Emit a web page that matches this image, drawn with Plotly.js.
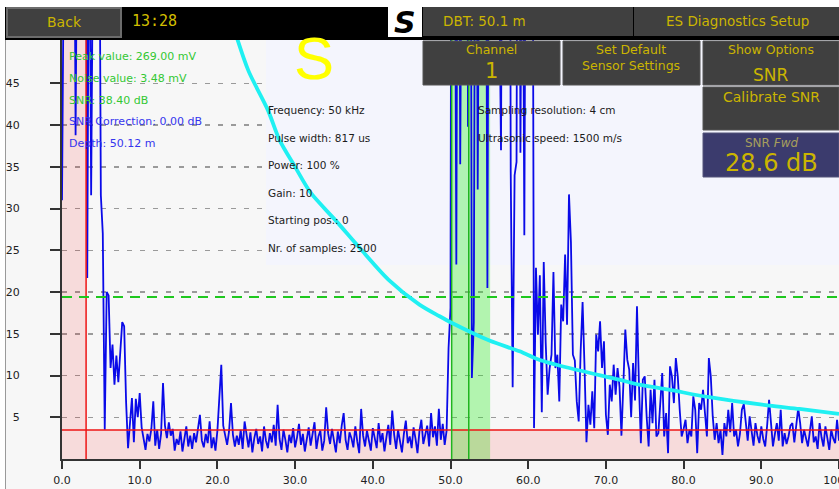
<!DOCTYPE html>
<html>
<head>
<meta charset="utf-8">
<script src="https://cdn.plot.ly/plotly-3.0.1.min.js"></script>
<style>html,body{margin:0;padding:0;background:#fff;}#chart{width:839px;height:489px;}</style>
</head>
<body>
<div id="chart"></div>
<script>
// ---------------- DATA ----------------
const sampleStep = 0.25; // m between plotted samples
const signal = [
  // 0.00 - 4.75
  31, 95, 140, 110, 160, 120, 85, 38.8, 100, 150, 130, 180, 120, 21.7, 75, 31.6, 110, 70, 130, 80,
  // 5.00 - 9.75
  31.6, 27, 3.5, 20.0, 19.6, 10.9, 13.7, 8.9, 12.4, 9.2, 13.0, 16.4, 15.9, 6.8, 1.3, 4.4, 7.3, 2.0, 7.2, 5.0,
  // 10.00 - 14.75
  7.9, 3.8, 2.2, 1.1, 3.0, 2.1, 3.6, 6.9, 1.6, 3.5, 1.2, 3.0, 9.1, 4.0, 2.5, 4.4, 2.8, 3.6, 1.0, 2.4,
  // 15.00 - 19.75
  1.7, 3.3, 0.9, 2.6, 3.9, 1.5, 2.8, 1.2, 3.1, 2.0, 3.7, 5.3, 2.2, 1.4, 3.0, 1.9, 4.5, 1.3, 2.6, 1.0,
  // 20.00 - 24.75
  3.4, 7.5, 11.3, 4.0, 2.9, 1.7, 3.3, 6.7, 2.9, 1.5, 2.8, 1.7, 3.5, 1.2, 4.5, 2.6, 1.4, 3.2, 0.8, 2.5,
  // 25.00 - 29.75
  3.6, 1.8, 2.7, 0.9, 3.9, 2.2, 1.3, 3.1, 2.0, 4.1, 1.6, 6.5, 2.4, 1.1, 3.5, 2.3, 0.8, 2.9, 1.9, 3.7,
  // 30.00 - 34.75
  1.4, 2.6, 4.2, 1.7, 3.0, 0.9, 2.5, 3.8, 1.6, 2.9, 4.4, 1.2, 2.7, 3.4, 1.0, 2.2, 6.2, 3.1, 1.8, 3.6,
  // 35.00 - 39.75
  2.0, 0.8, 3.3, 1.9, 4.0, 5.5, 2.3, 1.1, 3.2, 2.5, 1.4, 3.9, 2.1, 0.7, 6.0, 2.8, 1.5, 3.4, 2.2, 1.0,
  // 40.00 - 44.75
  3.7, 2.4, 1.3, 4.3, 2.0, 3.1, 0.9, 2.6, 4.1, 1.7, 5.8, 2.9, 1.2, 3.5, 2.2, 0.8, 3.0, 4.6, 1.9, 2.7,
  // 45.00 - 49.75
  1.3, 3.8, 2.4, 0.7, 3.3, 4.7, 1.8, 2.9, 4.0, 1.5, 5.5, 2.6, 3.9, 1.6, 6.0, 2.3, 4.2, 1.7, 3.4, 13.3,
  // 50.00 - 54.75
  18.1, 150, 90, 23.3, 110, 35.3, 140, 80, 160, 39.8, 120, 9.7, 16.4, 100, 32.3, 150, 110, 170, 90, 20.5,
  // 55.00 - 59.75
  130, 180, 90, 140, 100, 60, 37, 120, 160, 95, 140, 34.4, 8.6, 34.0, 35.6, 120, 36.7, 80, 26.8, 130,
  // 60.00 - 64.75
  150, 70, 100, 3.7, 22.9, 14.9, 22.0, 5.6, 23.6, 14.0, 7.7, 10.8, 12.5, 22.4, 10.9, 12.5, 6.9, 18.5, 16.5, 24.5,
  // 65.00 - 69.75
  16.1, 31.7, 26.0, 12.5, 11.8, 6.9, 4.5, 12.9, 18.8, 11.0, 2.0, 6.5, 4.1, 8.1, 3.7, 14.9, 12.9, 16.5, 10.9, 14.1,
  // 70.00 - 74.75
  5.3, 2.9, 8.9, 6.9, 11.3, 7.7, 10.9, 8.7, 2.8, 9.0, 15.5, 11.9, 10.7, 5.0, 11.5, 7.0, 18.3, 9.1, 1.9, 9.5,
  // 75.00 - 79.75
  9.9, 5.0, 1.5, 8.3, 4.3, 9.5, 2.7, 3.1, 6.7, 10.3, 2.7, 5.5, 0.7, 11.1, 9.9, 6.7, 12.1, 9.9, 5.9, 2.7,
  // 80.00 - 84.75
  3.6, 4.7, 1.9, 3.5, 2.7, 7.5, 5.9, 0.7, 6.7, 5.9, 8.3, 5.1, 2.7, 12.1, 9.9, 5.1, 2.3, 4.3, 1.9, 3.5,
  // 85.00 - 89.75
  0.5, 4.3, 2.7, 5.9, 3.2, 6.7, 2.7, 3.5, 1.5, 3.0, 5.9, 6.6, 4.3, 2.2, 5.1, 3.5, 1.6, 4.3, 2.8, 1.9,
  // 90.00 - 94.75
  3.9, 2.4, 1.5, 4.0, 7.1, 4.3, 1.5, 3.0, 4.3, 2.2, 5.9, 1.5, 3.1, 1.8, 2.7, 4.0, 4.3, 2.0, 3.9, 6.1,
  // 95.00 - 99.75
  4.3, 1.9, 3.5, 2.4, 1.5, 3.3, 5.1, 2.0, 2.7, 1.2, 4.3, 2.6, 1.5, 3.9, 2.3, 1.1, 3.5, 2.5, 1.9, 4.7,
  // 100.00
  2.2
];
const distance = signal.map((_, i) => i * sampleStep);

// threshold / TVG curve (cyan)
const tvgX = [22.5, 24, 26.5, 28, 30, 32, 35.3, 38.3, 42, 46, 48.6, 50.2, 55, 58.9, 61.4, 65.3, 71.7, 74.3, 78.1, 83.3, 91, 94.9, 100];
const tvgY = [50.5, 46.5, 41.8, 38.2, 35.0, 31.9, 28.5, 25.3, 21.5, 18.5, 17.1, 16.3, 14.2, 12.9, 11.9, 10.9, 9.5, 8.9, 8.3, 7.4, 6.4, 6.0, 5.4];

const noiseLevel = 3.48;      // red horizontal line
const blindZone = 3.1;        // red vertical line
const detectLevel = 19.4;     // green dashed line
const echoLines = [50.15, 52.35];
const echoWindow = [50.15, 55.1];
const xRange = [0, 100];
const yRange = [0, 50.2];

const xTicks = [0, 10, 20, 30, 40, 50, 60, 70, 80, 90, 100];
const xTickLabels = ['0.0', '10.0', '20.0', '30.0', '40.0', '50.0', '60.0', '70.0', '80.0', '90.0', '100.0'];
const yTicks = [5, 10, 15, 20, 25, 30, 35, 40, 45];

const leftInfo = [
  ['Peak value: 269.00 mV', '#33c833'],
  ['Noise value: 3.48 mV', '#33c833'],
  ['SNR: 38.40 dB', '#33c833'],
  ['SNR Correction: 0.00 dB', '#3535ee'],
  ['Depth: 50.12 m', '#3535ee']
];
const midInfo = ['Frequency: 50 kHz', 'Pulse width: 817 us', 'Power: 100 %', 'Gain: 10', 'Starting pos.: 0', 'Nr. of samples: 2500'];
const rightInfo = ['Sampling resolution: 4 cm', 'Ultrasonic speed: 1500 m/s'];

// ---------------- LAYOUT HELPERS ----------------
const W = 839, H = 489, ML = 62, MR = 0, MT = 40, MB = 30;
const PW = W - ML - MR, PH = H - MT - MB;
const px = x => (x - ML) / PW;
const py = y => (H - MB - y) / PH;
// pixel -> data (for the info panel that must sit in the data layer)
const dx = x => xRange[0] + px(x) * (xRange[1] - xRange[0]);
const dy = y => yRange[0] + py(y) * (yRange[1] - yRange[0]);
const FONT = 'DejaVu Sans, Verdana, sans-serif';
const YEL = '#cbb500';

function rect(x0, y0, x1, y1, fill, line, lw, layer) {
  return {type: 'rect', xref: 'paper', yref: 'paper', x0: px(x0), x1: px(x1), y0: py(y1), y1: py(y0),
    fillcolor: fill, line: {color: line || fill, width: lw || 0}, layer: layer || 'above'};
}
function txt(text, x, y, size, color, anchor, family) {
  return {text: text, xref: 'paper', yref: 'paper', x: px(x), y: py(y), xanchor: anchor || 'center', yanchor: 'middle',
    showarrow: false, font: {family: family || FONT, size: size, color: color}};
}

const shapes = [
  // info panel (hides gridlines, under traces)
  {type: 'rect', xref: 'x', yref: 'y', x0: dx(266), x1: xRange[1], y0: dy(265), y1: yRange[1],
   fillcolor: '#f4f5fd', line: {width: 0}, layer: 'between'},
  // echo window (green)
  {type: 'rect', xref: 'x', yref: 'y', x0: echoWindow[0], x1: echoWindow[1], y0: yRange[0], y1: yRange[1],
   fillcolor: 'rgba(40,240,30,0.33)', line: {width: 0}, layer: 'between'},
  // blind zone & noise band (translucent red)
  {type: 'rect', xref: 'x', yref: 'y', x0: xRange[0], x1: blindZone, y0: yRange[0], y1: yRange[1],
   fillcolor: 'rgba(255,0,0,0.11)', line: {width: 0}, layer: 'between'},
  {type: 'rect', xref: 'x', yref: 'y', x0: blindZone, x1: xRange[1], y0: yRange[0], y1: noiseLevel,
   fillcolor: 'rgba(255,0,0,0.11)', line: {width: 0}, layer: 'between'},
  // page frame
  rect(0, 0, 5, 489, '#ffffff'),
  rect(0, 0, 839, 7, '#ffffff'),
  {type: 'line', xref: 'paper', yref: 'paper', x0: px(5.5), x1: px(5.5), y0: py(489), y1: py(40), line: {color: '#9a9a9a', width: 1}},
  // header bar
  rect(5, 7, 839, 40, '#000000'),
  rect(7, 8, 121, 37, '#404040', '#6c6c6c', 2),
  rect(388, 7, 422, 37, '#ffffff'),
  rect(423, 7, 633, 36, '#404040'),
  rect(634, 7, 839, 36, '#404040'),
  // buttons
  rect(423, 41, 560, 85, '#404040', '#555555', 1),
  rect(563, 41, 700, 85, '#404040', '#555555', 1),
  rect(703, 41, 839, 85, '#404040', '#555555', 1),
  rect(703, 87, 839, 130, '#404040', '#555555', 1),
  rect(703, 133, 839, 177, '#3b3b6d', '#55557a', 1)
];

const annotations = [
  txt('Back', 64, 22, 14, YEL),
  txt('13:28', 130, 21, 15, '#d2be00', 'left', 'DejaVu Sans Mono, monospace'),
  txt('<b><i>S</i></b>', 405, 22, 30, '#000000'),
  txt('DBT: 50.1 m', 441, 21, 13.5, YEL, 'left'),
  txt('ES Diagnostics Setup', 737, 21, 13.5, YEL),
  txt('Channel', 491, 49, 12.5, YEL),
  txt('1', 491, 71, 21, YEL),
  txt('Set Default', 631, 49, 12.5, YEL),
  txt('Sensor Settings', 631, 65, 12.5, YEL),
  txt('Show Options', 771, 49, 12.5, YEL),
  txt('SNR', 771, 75, 17, YEL),
  txt('Calibrate SNR', 771, 97, 14, YEL),
  txt('SNR <i>Fwd</i>', 771, 143, 12, '#a79f5c'),
  txt('28.6 dB', 771, 163, 24, YEL),
  txt('S', 314, 58, 60, '#ffff00', 'center', 'Liberation Sans, Arial, sans-serif')
];
leftInfo.forEach((d, i) => annotations.push(txt(d[0], 67, 57 + i * 21.5, 11, d[1], 'left')));
midInfo.forEach((t, i) => annotations.push(txt(t, 266, 110 + i * 27.6, 10.5, '#1c1c1c', 'left')));
rightInfo.forEach((t, i) => annotations.push(txt(t, 476, 110 + i * 27.6, 10.5, '#1c1c1c', 'left')));

// ---------------- TRACES ----------------
const traces = [
  {x: distance, y: signal, type: 'scatter', mode: 'lines', line: {color: '#0a0ae8', width: 1.8}, hoverinfo: 'skip'},
  {x: [blindZone, blindZone], y: yRange, type: 'scatter', mode: 'lines', line: {color: '#ee1515', width: 1.5}, hoverinfo: 'skip'},
  {x: xRange, y: [noiseLevel, noiseLevel], type: 'scatter', mode: 'lines', line: {color: '#ee1515', width: 1.5}, hoverinfo: 'skip'},
  {x: [echoLines[0], echoLines[0], null, echoLines[1], echoLines[1]], y: [yRange[0], yRange[1], null, yRange[0], yRange[1]],
   type: 'scatter', mode: 'lines', line: {color: '#1fb51f', width: 1.5}, hoverinfo: 'skip'},
  {x: xRange, y: [detectLevel, detectLevel], type: 'scatter', mode: 'lines', line: {color: '#1fc81f', width: 2, dash: '10px,7px'}, hoverinfo: 'skip'},
  {x: tvgX, y: tvgY, type: 'scatter', mode: 'lines', line: {color: '#1ff0f2', width: 3.8, shape: 'spline', smoothing: 0.8}, hoverinfo: 'skip'}
];

const layout = {
  width: W, height: H,
  margin: {l: ML, r: MR, t: MT, b: MB, pad: 0},
  paper_bgcolor: '#f7f7f7', plot_bgcolor: '#f7f7f7',
  showlegend: false,
  font: {family: FONT, size: 11, color: '#222'},
  xaxis: {range: xRange, tickvals: xTicks, ticktext: xTickLabels, ticks: 'outside', ticklen: 8, tickwidth: 2, tickcolor: '#333',
    showline: true, linecolor: '#333', linewidth: 2, showgrid: false, zeroline: false, ticklabelstandoff: 2,
    ticklabeloverflow: 'allow', tickfont: {family: FONT, size: 11, color: '#222'}},
  yaxis: {range: yRange, tickvals: yTicks, ticks: 'outside', ticklen: 10, tickwidth: 2, tickcolor: '#333',
    showline: true, linecolor: '#333', linewidth: 2, showgrid: true, gridcolor: '#9a9a9a', gridwidth: 1.5, griddash: '5px,8px',
    zeroline: false, ticklabelstandoff: 28, tickfont: {family: FONT, size: 11, color: '#222'}},
  shapes: shapes,
  annotations: annotations
};

Plotly.newPlot('chart', traces, layout, {staticPlot: true, displayModeBar: false});
</script>
</body>
</html>
